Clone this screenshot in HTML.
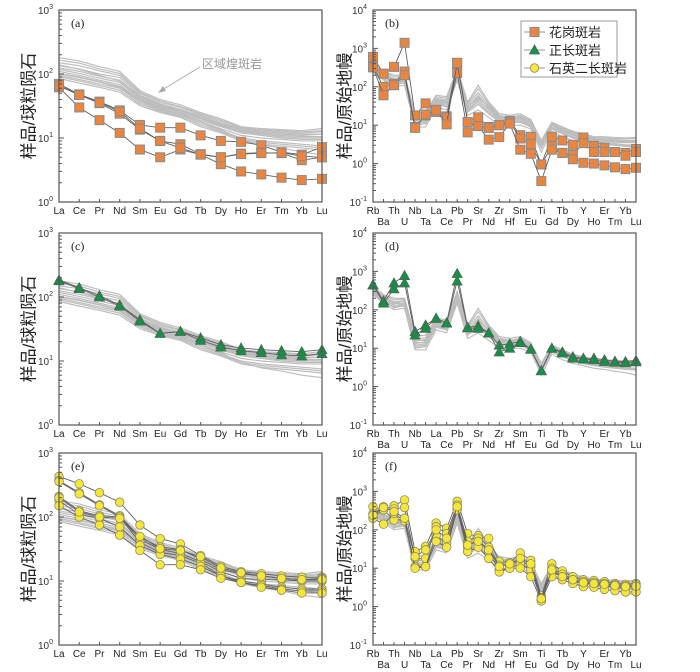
<!DOCTYPE html>
<html><head><meta charset="utf-8"><style>
body{margin:0;background:#fff;}
svg{display:block;font-family:"Liberation Sans","Noto Sans CJK SC",sans-serif;}
</style></head><body>
<svg id="chart" width="700" height="672" viewBox="0 0 700 672" xmlns="http://www.w3.org/2000/svg"></svg>
<script>
const reeCats=["La","Ce","Pr","Nd","Sm","Eu","Gd","Tb","Dy","Ho","Er","Tm","Yb","Lu"];
const spCats=["Rb","Ba","Th","U","Nb","Ta","La","Ce","Pb","Pr","Sr","Nd","Zr","Hf","Sm","Eu","Ti","Gd","Tb","Dy","Y","Ho","Er","Tm","Yb","Lu"];
const reeGray1=[180,160,130,110,55,40,33,25,20,15,14,13.5,13,14];
const reeGray2=[150,135,112,95,50,36,30,23,18,14,13,12.5,12,12.5];
const reeGray3=[125,110,92,80,45,33,27,21,16,13,12,11,10.5,10.5];
const reeGray4=[110,95,80,68,40,30,25,19,15,12,11,10,9.5,9.5];
const reeGray5=[95,82,70,60,36,27,23,17,13,10,9,8.5,8,7.5];
const reeGray6=[85,72,62,52,32,25,21,15,12,9,8,7.5,7,6.5];
const reeGray7=[100,88,75,62,38,28,24,18,13.5,9.5,7.8,7,6,5.5];
const reeGray8=[165,148,120,102,52,38,31,24,19,14.5,13.5,13,12.5,13];
const reeGray9=[135,120,100,88,47,34,28,22,17,13.5,12.5,12,11.5,11.5];
const reeGray10=[118,102,86,74,42,31,26,20,15.5,12.5,11.5,10.5,10,10];
const reeGray11=[102,90,76,64,39,29,24,18,14,11,10,9.5,9,9];
const reeGray12=[90,78,66,56,34,26,22,16,12.5,9.5,8.5,8,7.5,7];
const reeGray13=[140,118,95,78,44,32,27,21,16.5,13,12,11.5,11,11.5];
const spGray1=[400,250,200,200,20,22,60,55,300,40,110,40,20,18,20,14,4,12,9,7,6,5,5,4.8,4.7,4.8];
const spGray2=[350,220,160,170,15,17,50,45,250,33,70,32,17,15,17,12,3.5,11,8,6.2,5.2,4.5,4.3,4.2,4,4];
const spGray3=[300,190,130,140,12,13,40,35,200,26,45,25,14,13,14,10,3,9,7,5.4,4.5,4,3.8,3.6,3.5,3.5];
const spGray4=[250,150,100,110,9,9,30,25,150,18,25,16,10,10,10,8,2,7,5,4,3.5,3,2.8,2.5,2.3,2];
const spGray5=[320,200,110,160,10,11,35,30,180,22,35,20,12,12,12,9,2.6,8,6,4.6,4,3.5,3.2,3,2.8,2.7];
const spGray6=[380,240,180,190,17,19,55,50,280,36,90,36,18,16,18,13,3.8,11.5,8.5,6.6,5.6,4.8,4.6,4.5,4.4,4.5];
const spGray7=[330,210,145,150,13,15,45,40,220,30,55,28,15,14,15,11,3.2,10,7.5,5.8,4.8,4.2,4,3.9,3.8,3.8];
const spGray8=[280,170,115,125,10,11,36,30,170,22,35,20,12,11.5,12,9,2.5,8,6,4.8,4,3.6,3.3,3.1,2.9,2.8];
const spGray9=[360,230,140,180,14,14,42,38,230,28,60,27,15,14,16,11,3.3,10,7.2,5.6,4.7,4.2,4,3.8,3.6,3.6];
const spGray10=[270,160,120,130,11,12,38,32,190,24,40,22,13,12,13,9.5,2.8,8.5,6.5,5,4.2,3.8,3.5,3.3,3.1,3];
const spGray11=[310,200,150,150,16,16,48,42,240,30,50,30,16,15,16,11.5,3.4,10.5,7.8,6,5,4.4,4.2,4,3.9,3.9];
const aOrange1=[70,48,37,27,16,14.5,14.5,11,9,8.7,7.7,6,5.5,7.2];
const aOrange2=[65,47,35,24,13.5,9,8,5.6,5,5.7,5.9,5.8,4.5,5];
const aOrange3=[62,30,19,12,6.6,5,6.6,5.5,3.9,3,2.7,2.4,2.2,2.3];
const aOrange4=[66,47,36,26,14,9,7,5.5,5,5.6,5.8,5.9,5.2,5];
const bOrange1=[600,220,330,1400,18,37,25,17,420,12,16,9,10,13,5.5,5,0.95,5,4,3.1,4.8,2.9,2.6,2,1.9,2.4];
const bOrange2=[330,100,120,250,9,18,22,16,230,6.5,9.5,8.5,10,12,4.5,3.2,0.95,2.8,1.9,1.7,3.4,2,2,2,1.6,2];
const bOrange3=[320,60,110,200,8.5,19,25,10.5,420,12,9.5,4.2,4.9,11,2.3,1.8,0.35,2.3,1.9,1.3,1.05,1,0.9,0.8,0.72,0.78];
const cGreen1=[185,140,105,75,44,27,29,23,18,16,15,14.5,14,15];
const cGreen2=[180,135,100,72,42,27,29,21,16.5,14.5,13.5,12.5,12,13];
const dGreen1=[450,170,500,780,27,40,60,46,880,35,38,25,12,13,15,9.5,2.6,10,8,6,5.5,5.5,5,4.6,4.5,4.8];
const dGreen2=[440,150,350,500,22,33,60,45,560,34,33,25,8,10,14,9.3,2.6,10,7.5,5.5,5.2,5,4.5,4.3,4.2,4.4];
const eYellow1=[430,330,240,170,75,46,38,25,17,14,13,12,11.5,11.5];
const eYellow2=[370,240,155,105,48,34,31,22,15,13,12,11,10.5,11];
const eYellow3=[360,230,150,100,45,31,27,20,14,11,10.5,10.5,10,10];
const eYellow4=[210,125,105,100,40,28,25,19,12,10,9,8,7.5,7.5];
const eYellow5=[180,110,95,70,36,26,22,17,12,9.5,8.5,7.5,7,7];
const eYellow6=[150,100,75,52,30,18,18,15,11,9.5,8,7.2,6.5,6.5];
const eYellow7=[200,120,100,95,50,32,30,24,16,13.5,12,11,10.5,10.5];
const fYellow1=[400,330,420,600,27,37,150,110,550,80,65,60,15,14,25,16,1.9,13,8.5,6,5,4.8,4.5,4,3.8,4];
const fYellow2=[260,400,350,380,18,18,120,80,440,50,70,35,12,12,16,11,1.7,10,7,5,4.5,4.3,4,3.7,3.5,3.7];
const fYellow3=[220,330,180,180,11,11,70,45,350,35,60,25,9,10,13,9,1.5,8,6,4.5,4,3.8,3.5,3.2,3,3.2];
const fYellow4=[200,140,270,170,10,11,50,35,330,27,35,18,8,10,10,6,1.4,6,5,4,3.3,3.2,2.8,2.6,2.4,2.4];
const fYellow5=[240,380,300,200,20,30,100,60,400,40,50,30,11,13,18,13,1.6,9,6,5,4.2,4,3.8,3.5,3.3,3.4];

const NS="http://www.w3.org/2000/svg";
const svg=document.getElementById('chart');
function mk(tag,attrs,parent){const e=document.createElementNS(NS,tag);for(const k in attrs)e.setAttribute(k,attrs[k]);(parent||svg).appendChild(e);return e;}

const reeGrays=[reeGray1,reeGray2,reeGray3,reeGray4,reeGray5,reeGray6,reeGray7,reeGray8,reeGray9,reeGray10,reeGray11,reeGray12,reeGray13];
const spGrays=[spGray1,spGray2,spGray3,spGray4,spGray5,spGray6,spGray7,spGray8,spGray9,spGray10,spGray11];
const rows=[10,233,453];
const H=192;
const panels=[
 {id:'a',x0:59,x1:322,row:0,cats:reeCats,lo:0,hi:3,grays:reeGrays,series:[aOrange1,aOrange2,aOrange3,aOrange4],mark:'sq'},
 {id:'b',x0:373,x1:636,row:0,cats:spCats,lo:-1,hi:4,grays:spGrays,series:[bOrange1,bOrange2,bOrange3],mark:'sq'},
 {id:'c',x0:59,x1:322,row:1,cats:reeCats,lo:0,hi:3,grays:reeGrays,series:[cGreen1,cGreen2],mark:'tri'},
 {id:'d',x0:373,x1:636,row:1,cats:spCats,lo:-1,hi:4,grays:spGrays,series:[dGreen1,dGreen2],mark:'tri'},
 {id:'e',x0:59,x1:322,row:2,cats:reeCats,lo:0,hi:3,grays:reeGrays,series:[eYellow1,eYellow2,eYellow3,eYellow4,eYellow5,eYellow6,eYellow7],mark:'cir'},
 {id:'f',x0:373,x1:636,row:2,cats:spCats,lo:-1,hi:4,grays:spGrays,series:[fYellow1,fYellow2,fYellow3,fYellow4,fYellow5],mark:'cir'}
];
function drawMarker(g,m,x,y){
  let e;
  if(m==='sq'){e=mk('rect',{x:x-4.5,y:y-4.5,width:9,height:9,fill:'#ea8540',stroke:'#8a8a8a','stroke-width':1},g);}
  else if(m==='tri'){e=mk('polygon',{points:`${x},${y-5} ${x-5},${y+4} ${x+5},${y+4}`,fill:'#14904a',stroke:'#4a6a50','stroke-width':0.8},g);}
  else {e=mk('circle',{cx:x,cy:y,r:4.3,fill:'#f6e63a',stroke:'#8a8a6a','stroke-width':0.8},g);}
  return e;
}
panels.forEach(p=>{
  const top=rows[p.row],bot=top+H;
  const g=mk('g',{});
  
  
  const xs=i=>p.x0+i*(p.x1-p.x0)/(p.cats.length-1);
  const ys=v=>bot-(Math.log10(v)-p.lo)/(p.hi-p.lo)*H;
  p.grays.forEach((arr,k)=>{
    const pl=mk('polyline',{points:arr.map((v,i)=>xs(i)+','+ys(v)).join(' '),fill:'none',stroke:'#bdbdbd','stroke-width':1.2},g);
    
    
  });
  p.series.forEach((arr,k)=>{
    const sg=mk('g',{},g);
    
    
    mk('polyline',{points:arr.map((v,i)=>xs(i)+','+ys(v)).join(' '),fill:'none',stroke:'#606060','stroke-width':0.9},sg);
    arr.forEach((v,i)=>{
      const m=drawMarker(sg,p.mark,xs(i),ys(v));
      
      
    });
  });
  const fr=mk('rect',{x:p.x0,y:top,width:p.x1-p.x0,height:H,fill:'none',stroke:'#555','stroke-width':1.2},g);
  
  
  for(let d=p.lo;d<=p.hi;d++){
    const y=ys(Math.pow(10,d));
    mk('line',{x1:p.x0,y1:y,x2:p.x0+5,y2:y,stroke:'#555'},g);
    const t=mk('text',{x:p.x0-6,y:y+4,'text-anchor':'end','font-size':10,fill:'#333'},g);
    t.textContent='10';
    const s=mk('tspan',{dy:-5,'font-size':7},t);s.textContent=String(d);
    
    
    if(d<p.hi){for(let m=2;m<=9;m++){const ym=ys(m*Math.pow(10,d));mk('line',{x1:p.x0,y1:ym,x2:p.x0+3,y2:ym,stroke:'#555'},g);}}
  }
  p.cats.forEach((c,i)=>{
    const two=p.cats.length>14;
    const yy=two?(i%2===0?bot+12:bot+23):bot+12;
    mk('line',{x1:xs(i),y1:bot,x2:xs(i),y2:bot-3,stroke:'#555'},g);
    const t=mk('text',{x:xs(i),y:yy,'text-anchor':'middle','font-size':10,fill:'#222'},g);
    t.textContent=c;
    
    
  });
  const pt=mk('text',{x:p.x0+12,y:top+17,'font-size':12,'font-family':'Liberation Serif,serif',fill:'#222'},g);
  pt.textContent='('+p.id+')';
  
  
  const cx=p.x0<100?30:346, cy=top+H/2;
  const yt=mk('text',{x:cx,y:cy,'text-anchor':'middle','font-size':17,fill:'#222',transform:`rotate(-90 ${cx} ${cy})`,'dominant-baseline':'middle'},g);
  yt.textContent=p.x0<100?'样品/球粒陨石':'样品/原始地幔';
  
  
});
const ann=mk('g',{});


const at=mk('text',{x:202,y:68,'font-size':12,fill:'#999'},ann);at.textContent='区域煌斑岩';
mk('line',{x1:200,y1:67,x2:162,y2:90,stroke:'#aaa','stroke-width':1},ann);
mk('polygon',{points:'158,93 163,86 166,91',fill:'#aaa'},ann);
const lg=mk('g',{});


mk('rect',{x:521,y:21,width:96,height:56,fill:'#fff',stroke:'#999','stroke-width':1},lg);
const legItems=[['花岗斑岩','sq'],['正长斑岩','tri'],['石英二长斑岩','cir']];
legItems.forEach((it,k)=>{
  const y=32+k*18;
  const eg=mk('g',{},lg);
  
  
  mk('line',{x1:524,y1:y,x2:545,y2:y,stroke:'#999'},eg);
  drawMarker(eg,it[1],534.5,y);
  const t=mk('text',{x:549,y:y+5,'font-size':13,fill:'#222'},eg);t.textContent=it[0];
});
</script>
</body></html>
